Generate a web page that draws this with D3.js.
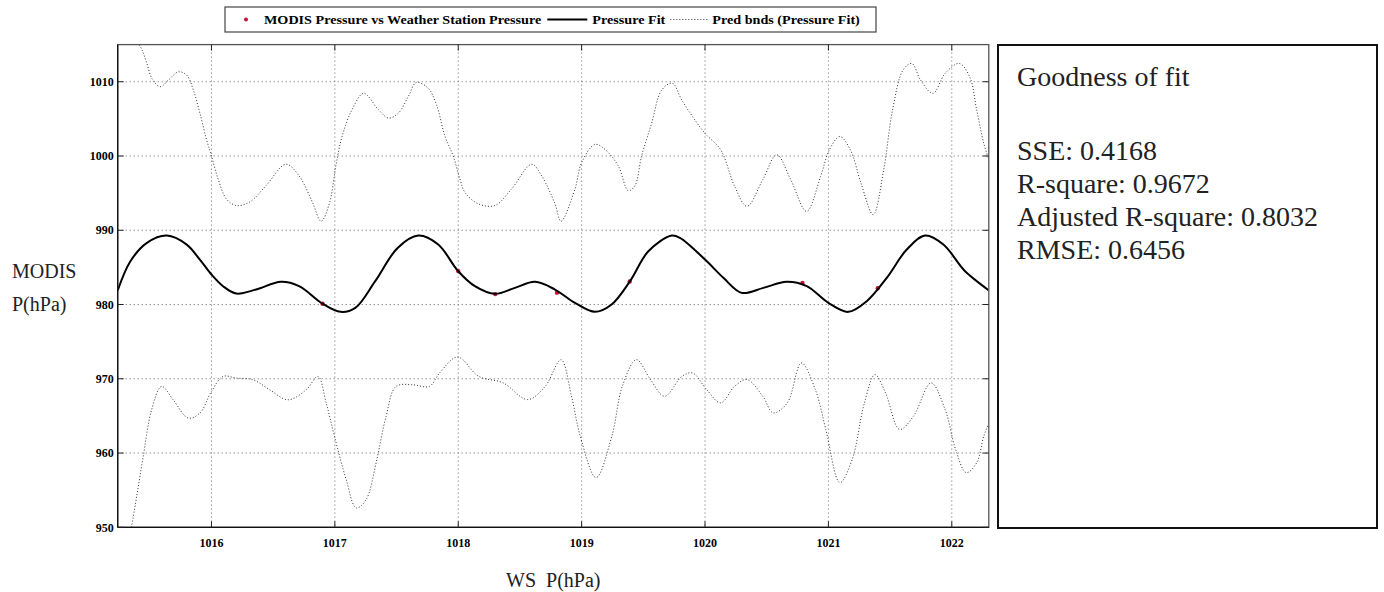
<!DOCTYPE html>
<html>
<head>
<meta charset="utf-8">
<script src="https://cdn.jsdelivr.net/npm/d3@7"></script>
<style>
  body { margin: 0; background: #fff; }
  svg { display: block; }
</style>
</head>
<body>
<div id="chart"></div>
<script>
// values (WS pressure, MODIS pressure)
const stationPoints = [
  [1016.90, 980.1], [1018.00, 984.5], [1018.30, 981.4], [1018.80, 981.6],
  [1019.39, 983.1], [1020.79, 982.9], [1021.40, 982.2]
]

const fitCurve = [
  [1015.24, 981.9], [1015.343, 985.83], [1015.477, 988.3], [1015.638, 989.28],
  [1015.799, 988.07], [1015.906, 986.05], [1016.0, 984.04], [1016.094, 982.47],
  [1016.201, 981.48], [1016.362, 982.02], [1016.563, 983.05], [1016.71, 982.47],
  [1016.898, 980.13], [1017.046, 979.01], [1017.166, 979.55], [1017.327, 983.14],
  [1017.509, 987.62], [1017.676, 989.28], [1017.838, 988.07], [1018.0, 984.48],
  [1018.135, 982.47], [1018.297, 981.44], [1018.459, 982.24], [1018.622, 983.05],
  [1018.784, 982.02], [1018.946, 980.22], [1019.108, 979.01], [1019.243, 980.0],
  [1019.392, 983.14], [1019.541, 987.17], [1019.73, 989.28], [1019.797, 988.97],
  [1020.0, 986.05], [1020.149, 983.59], [1020.297, 981.57], [1020.473, 982.24],
  [1020.662, 983.05], [1020.824, 982.47], [1021.0, 980.22], [1021.162, 979.01],
  [1021.311, 980.45], [1021.473, 983.59], [1021.635, 987.4], [1021.784, 989.28],
  [1021.932, 988.07], [1022.108, 984.48], [1022.3, 981.9]
]

const upperBound = [
  [1015.40, 1015.3], [1015.437, 1014.31], [1015.477, 1012.44], [1015.517, 1010.44],
  [1015.584, 1009.33], [1015.651, 1010.22], [1015.732, 1011.33], [1015.799, 1010.89],
  [1015.853, 1008.89], [1015.906, 1005.78], [1015.96, 1002.22], [1016.0, 1000.0],
  [1016.054, 996.89], [1016.121, 994.22], [1016.201, 993.33], [1016.308, 993.78],
  [1016.442, 996.0], [1016.603, 998.89], [1016.71, 997.33], [1016.818, 993.78],
  [1016.889, 991.21], [1016.957, 993.7], [1017.008, 998.67], [1017.059, 1002.67],
  [1017.139, 1006.22], [1017.233, 1008.44], [1017.354, 1006.22], [1017.434, 1005.11],
  [1017.515, 1005.78], [1017.595, 1008.0], [1017.66, 1009.9], [1017.757, 1009.11],
  [1017.824, 1006.89], [1017.892, 1002.67], [1017.959, 1000.0], [1018.014, 996.89],
  [1018.054, 995.11], [1018.162, 993.56], [1018.297, 993.33], [1018.432, 995.56],
  [1018.595, 998.89], [1018.676, 997.33], [1018.784, 993.56], [1018.833, 991.21],
  [1018.946, 995.56], [1019.0, 999.11], [1019.108, 1001.56], [1019.189, 1000.89],
  [1019.297, 998.67], [1019.378, 995.33], [1019.432, 996.0], [1019.486, 1000.0],
  [1019.568, 1004.44], [1019.649, 1008.89], [1019.735, 1009.8], [1019.811, 1007.56],
  [1019.899, 1005.3], [1019.999, 1003.06], [1020.127, 1000.83], [1020.24, 995.91],
  [1020.34, 993.22], [1020.468, 996.8], [1020.581, 1000.16], [1020.695, 996.8],
  [1020.823, 992.55], [1020.937, 997.25], [1021.008, 1000.83], [1021.093, 1002.62],
  [1021.178, 1000.83], [1021.264, 996.35], [1021.363, 992.1], [1021.448, 998.14],
  [1021.52, 1006.2], [1021.605, 1011.57], [1021.676, 1012.46], [1021.747, 1010.22],
  [1021.847, 1008.43], [1021.946, 1011.12], [1022.06, 1012.46], [1022.145, 1010.67],
  [1022.202, 1006.2], [1022.259, 1001.72], [1022.3, 999.5]
]

const lowerBound = [
  [1015.33, 948.0], [1015.353, 950.13], [1015.394, 954.17], [1015.447, 959.55],
  [1015.515, 965.83], [1015.596, 968.97], [1015.69, 967.17], [1015.811, 964.71],
  [1015.906, 965.38], [1016.0, 968.3], [1016.094, 970.31], [1016.202, 970.09],
  [1016.337, 969.87], [1016.472, 968.52], [1016.62, 967.17], [1016.768, 968.52],
  [1016.863, 970.31], [1016.93, 966.73], [1016.997, 962.24], [1017.092, 956.41],
  [1017.173, 952.6], [1017.253, 953.72], [1017.334, 958.65], [1017.415, 964.93],
  [1017.496, 968.97], [1017.631, 969.19], [1017.765, 968.97], [1017.85, 970.8],
  [1017.994, 972.93], [1018.165, 970.34], [1018.364, 969.44], [1018.563, 967.2],
  [1018.705, 968.99], [1018.833, 972.57], [1018.918, 967.65], [1018.989, 962.28],
  [1019.117, 956.69], [1019.245, 962.28], [1019.33, 968.99], [1019.444, 972.57],
  [1019.558, 969.89], [1019.672, 967.65], [1019.814, 970.34], [1019.899, 970.78],
  [1020.013, 968.55], [1020.127, 966.76], [1020.24, 968.99], [1020.34, 969.89],
  [1020.468, 967.65], [1020.553, 965.41], [1020.667, 966.76], [1020.781, 972.13],
  [1020.894, 968.55], [1020.979, 963.18], [1021.093, 956.02], [1021.193, 959.15],
  [1021.292, 966.76], [1021.377, 970.56], [1021.463, 968.1], [1021.577, 963.18],
  [1021.69, 964.97], [1021.832, 969.44], [1021.946, 965.86], [1022.031, 960.49],
  [1022.117, 957.36], [1022.202, 958.7], [1022.259, 962.28], [1022.3, 964.0]
]

const xTicks = [1016, 1017, 1018, 1019, 1020, 1021, 1022]
const yTicks = [950, 960, 970, 980, 990, 1000, 1010]
const legendLabels = ["MODIS Pressure vs Weather Station Pressure", "Pressure Fit", "Pred bnds (Pressure Fit)"]
const fitTitle = "Goodness of fit"
const fitStats = ["SSE: 0.4168", "R-square: 0.9672", "Adjusted R-square: 0.8032", "RMSE: 0.6456"]

const width = 1384, height = 592
const plot = { left: 117.7, right: 988.8, top: 44.6, bottom: 527.3 }
const tickFont = "'Liberation Serif', 'Times New Roman', serif"
const bookFont = "'Liberation Serif', 'Times New Roman', serif"

const svg = d3.select("#chart").append("svg")
  .attr("width", width)
  .attr("height", height)

const x = d3.scaleLinear()
  .domain([1015.24, 1022.3])
  .range([plot.left, plot.right])

const y = d3.scaleLinear()
  .domain([950, 1015])
  .range([plot.bottom, plot.top])

svg.append("clipPath").attr("id", "plotClip")
  .append("rect")
  .attr("x", plot.left).attr("y", plot.top)
  .attr("width", plot.right - plot.left).attr("height", plot.bottom - plot.top)

// dotted grid
const grid = svg.append("g")
grid.selectAll(".gx").data(xTicks).enter().append("line")
  .attr("x1", d => x(d)).attr("x2", d => x(d))
  .attr("y1", plot.top).attr("y2", plot.bottom)
  .attr("stroke", "#666").attr("stroke-width", 1).attr("stroke-dasharray", "1,3")
grid.selectAll(".gy").data(yTicks).enter().append("line")
  .attr("x1", plot.left).attr("x2", plot.right)
  .attr("y1", d => y(d)).attr("y2", d => y(d))
  .attr("stroke", "#666").attr("stroke-width", 1).attr("stroke-dasharray", "1,3")

const line = d3.line()
  .x(d => x(d[0]))
  .y(d => y(d[1]))
  .curve(d3.curveCatmullRom.alpha(0.5))

const curves = svg.append("g").attr("clip-path", "url(#plotClip)")

curves.append("path").datum(upperBound)
  .attr("d", line).attr("fill", "none")
  .attr("stroke", "#333").attr("stroke-width", 1).attr("stroke-dasharray", "1,2")
curves.append("path").datum(lowerBound)
  .attr("d", line).attr("fill", "none")
  .attr("stroke", "#333").attr("stroke-width", 1).attr("stroke-dasharray", "1,2")

curves.selectAll(".pt").data(stationPoints).enter().append("circle")
  .attr("cx", d => x(d[0])).attr("cy", d => y(d[1]))
  .attr("r", 2.2).attr("fill", "#cc1133")

curves.append("path").datum(fitCurve)
  .attr("d", line).attr("fill", "none")
  .attr("stroke", "#000").attr("stroke-width", 2)

// frame and inward ticks
svg.append("rect")
  .attr("x", plot.left).attr("y", plot.top)
  .attr("width", plot.right - plot.left).attr("height", plot.bottom - plot.top)
  .attr("fill", "none").attr("stroke", "#555").attr("stroke-width", 1.3)
svg.append("line")
  .attr("x1", plot.left).attr("x2", plot.left).attr("y1", plot.top).attr("y2", plot.bottom)
  .attr("stroke", "#111").attr("stroke-width", 1.3)
svg.append("line")
  .attr("x1", plot.left).attr("x2", plot.right).attr("y1", plot.bottom).attr("y2", plot.bottom)
  .attr("stroke", "#111").attr("stroke-width", 1.3)

const ticks = svg.append("g").attr("stroke", "#222").attr("stroke-width", 1)
xTicks.forEach(t => {
  ticks.append("line").attr("x1", x(t)).attr("x2", x(t)).attr("y1", plot.bottom).attr("y2", plot.bottom - 6)
  ticks.append("line").attr("x1", x(t)).attr("x2", x(t)).attr("y1", plot.top).attr("y2", plot.top + 6)
})
yTicks.forEach(t => {
  ticks.append("line").attr("x1", plot.left).attr("x2", plot.left + 6).attr("y1", y(t)).attr("y2", y(t))
  ticks.append("line").attr("x1", plot.right).attr("x2", plot.right - 6).attr("y1", y(t)).attr("y2", y(t))
})

svg.append("g").selectAll("text").data(xTicks).enter().append("text")
  .attr("x", d => x(d)).attr("y", plot.bottom + 20)
  .attr("text-anchor", "middle")
  .style("font-family", tickFont).style("font-size", "12px").style("font-weight", 700)
  .text(d => d)

svg.append("g").selectAll("text").data(yTicks).enter().append("text")
  .attr("x", plot.left - 4).attr("y", d => y(d)).attr("dy", "0.35em")
  .attr("text-anchor", "end")
  .style("font-family", tickFont).style("font-size", "12px").style("font-weight", 700)
  .text(d => d)

// axis titles
svg.append("text").attr("x", 12).attr("y", 278)
  .style("font-family", bookFont).style("font-size", "20px").style("fill", "#222")
  .text("MODIS")
svg.append("text").attr("x", 12).attr("y", 311)
  .style("font-family", bookFont).style("font-size", "20px").style("fill", "#222")
  .text("P(hPa)")
svg.append("text").attr("x", (plot.left + plot.right) / 2).attr("y", 587)
  .attr("text-anchor", "middle")
  .style("font-family", bookFont).style("font-size", "20px").style("fill", "#222")
  .style("white-space", "pre")
  .text("WS  P(hPa)")

// legend
const legend = svg.append("g")
legend.append("rect")
  .attr("x", 225).attr("y", 7).attr("width", 651).attr("height", 25)
  .attr("fill", "#fff").attr("stroke", "#444").attr("stroke-width", 1.2)

function legendText(str, xPos) {
  const t = legend.append("text").attr("x", xPos).attr("y", 23.5)
    .style("font-family", tickFont).style("font-size", "12px").style("font-weight", 700)
    .text(str)
  const w = t.node().getComputedTextLength() * 1.18
  t.attr("textLength", w).attr("lengthAdjust", "spacingAndGlyphs")
  return xPos + w
}

legend.append("circle").attr("cx", 246).attr("cy", 19.5).attr("r", 2).attr("fill", "#cc1133")
let lx = legendText(legendLabels[0], 264)
legend.append("line").attr("x1", lx + 6).attr("x2", lx + 46).attr("y1", 19.5).attr("y2", 19.5)
  .attr("stroke", "#000").attr("stroke-width", 2)
lx = legendText(legendLabels[1], lx + 51)
legend.append("line").attr("x1", lx + 5).attr("x2", lx + 43).attr("y1", 19.5).attr("y2", 19.5)
  .attr("stroke", "#333").attr("stroke-width", 1).attr("stroke-dasharray", "1,2")
legendText(legendLabels[2], lx + 47)

// goodness of fit box
const box = svg.append("g")
box.append("rect")
  .attr("x", 998).attr("y", 45).attr("width", 379).attr("height", 483)
  .attr("fill", "none").attr("stroke", "#111").attr("stroke-width", 2)
box.append("text").attr("x", 1017).attr("y", 86)
  .style("font-family", bookFont).style("font-size", "28px").style("fill", "#222")
  .text(fitTitle)
box.selectAll(".stat").data(fitStats).enter().append("text")
  .attr("x", 1017).attr("y", (d, i) => 160 + i * 33)
  .style("font-family", bookFont).style("font-size", "28px").style("fill", "#222")
  .text(d => d)
</script>
</body>
</html>
